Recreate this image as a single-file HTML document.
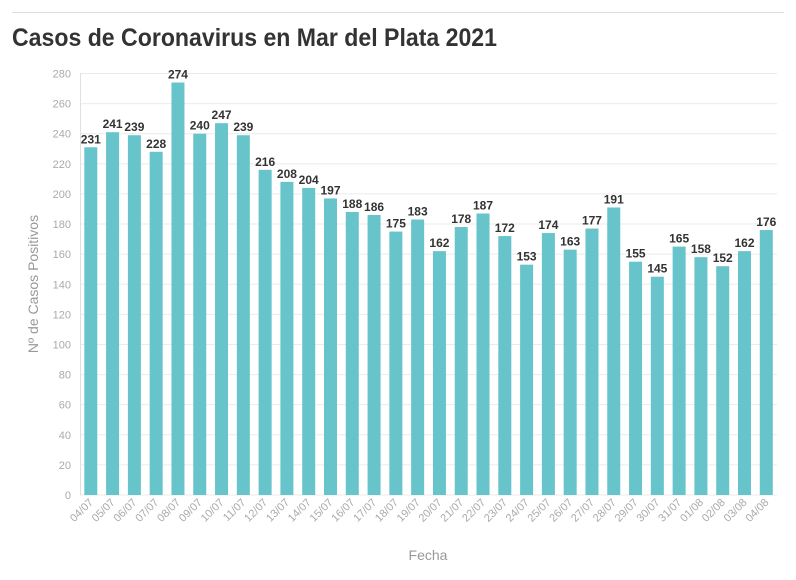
<!DOCTYPE html>
<html><head><meta charset="utf-8"><style>
body{margin:0;background:#fff;width:796px;height:575px;overflow:hidden;font-family:"Liberation Sans",sans-serif}
</style></head><body>
<svg id="s" width="796" height="575" xmlns="http://www.w3.org/2000/svg">
<line x1="12" y1="12.5" x2="784" y2="12.5" stroke="#ddd" stroke-width="1"/>
<text x="12" y="46" font-size="25" font-weight="bold" fill="#333" textLength="485" lengthAdjust="spacingAndGlyphs">Casos de Coronavirus en Mar del Plata 2021</text>
<text transform="translate(38,284) rotate(-90)" text-anchor="middle" font-size="14" fill="#999">Nº de Casos Positivos</text>
<text x="428" y="560" text-anchor="middle" font-size="14" fill="#999">Fecha</text>
<g id="g"></g>
</svg>
<script>
var d=[231,241,239,228,274,240,247,239,216,208,204,197,188,186,175,183,162,178,187,172,153,174,163,177,191,155,145,165,158,152,162,176];
var lb=[];for(var i=4;i<=31;i++)lb.push((i<10?'0':'')+i+'/07');for(var i=1;i<=4;i++)lb.push('0'+i+'/08');
var h='';var y0=495,k=421.5/280;
for(var v=0;v<=280;v+=20){var y=y0-v*k;h+='<line x1="80" x2="777" y1="'+y+'" y2="'+y+'" stroke="#ebebeb"/>';h+='<text x="71" y="'+(y+4)+'" text-anchor="end" font-size="11" fill="#aaa">'+v+'</text>';}
h+='<line x1="80.5" x2="80.5" y1="73" y2="495" stroke="#e0e0e0"/>';
for(var i=0;i<32;i++){var c=90.8+i*21.79,y=y0-d[i]*k;
h+='<rect x="'+(c-6.5)+'" y="'+y+'" width="13" height="'+(y0-y)+'" fill="#67c4cb"/>';
h+='<text x="'+c+'" y="'+(y-4)+'" text-anchor="middle" font-size="12" font-weight="bold" fill="#333">'+d[i]+'</text>';
h+='<text transform="translate('+(c+3)+',503) rotate(-45)" text-anchor="end" font-size="11" fill="#aaa">'+lb[i]+'</text>';}
document.getElementById('g').innerHTML=h;
</script>
</body></html>
